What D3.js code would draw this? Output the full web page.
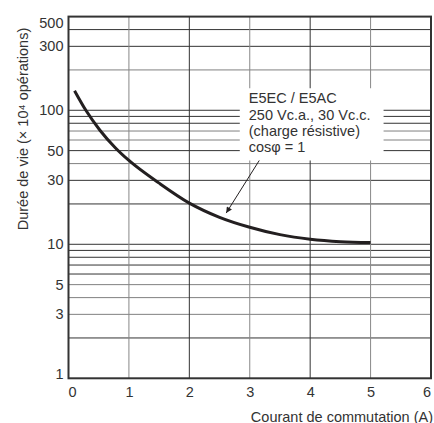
<!DOCTYPE html>
<html>
<head>
<meta charset="utf-8">
<script src="https://cdn.jsdelivr.net/npm/d3@7"></script>
<style>
  html, body { margin: 0; padding: 0; background: #fff; }
  svg { display: block; font-family: "Liberation Sans", Arial, sans-serif; }
</style>
</head>
<body>
<svg id="chart" width="434" height="423"></svg>
<script>
// ---- data ----
const currentA = [0.1, 0.29, 0.52, 0.77, 1, 1.5, 2, 2.5, 3, 3.5, 4, 4.5, 5];
const lifeOps  = [140, 99.5, 71, 52.8, 42.2, 28.6, 20.3, 15.9, 13.4, 11.8, 10.9, 10.45, 10.3];
const xTicks = [0, 1, 2, 3, 4, 5, 6];
const yTickLabels = [1, 3, 5, 10, 30, 50, 100, 300, 500];
const yGrid = [2, 3, 4, 5, 6, 7, 8, 9, 10, 20, 30, 40, 50, 60, 70, 80, 90, 100, 200, 300, 400];
const xGrid = [1, 2, 3, 4, 5];
const annotationLines = ["E5EC / E5AC", "250 Vc.a., 30 Vc.c.", "(charge résistive)", "cosφ = 1"];
const annotationBox = { x0: 2.835, x1: 5.215, yTop: 146, yBottom: 42.2 };
const arrowFrom = { x: 3.157, y: 42.2 };
const arrowTo = { x: 2.61, y: 17.1 };
const xTitle = "Courant de commutation (A)";
const yTitle = "Durée de vie (× 10⁴ opérations)";

// ---- layout ----
const L = 68.5, R = 431, T = 16.6, B = 378.3;
const svg = d3.select("#chart");
const x = d3.scaleLinear().domain([0, 6]).range([L, R]);
const y = d3.scaleLog().domain([1, 500]).range([B, T]);
const ink = "#231f20";
const fs = "14.5px";

const lightH = new Set([200, 70, 60, 40, 5, 4, 3]);

// grid
svg.append("g").selectAll("line").data(yGrid).join("line")
  .attr("x1", L).attr("x2", R)
  .attr("y1", d => y(d)).attr("y2", d => y(d))
  .attr("stroke", d => lightH.has(d) ? "#808080" : "#333")
  .attr("stroke-width", 1);
svg.append("g").selectAll("line").data(xGrid).join("line")
  .attr("x1", d => x(d)).attr("x2", d => x(d))
  .attr("y1", T).attr("y2", B)
  .attr("stroke", d => d % 2 === 1 ? "#888" : "#333")
  .attr("stroke-width", 1);

// annotation box (white background over grid)
svg.append("rect")
  .attr("x", x(annotationBox.x0)).attr("y", y(annotationBox.yTop))
  .attr("width", x(annotationBox.x1) - x(annotationBox.x0))
  .attr("height", y(annotationBox.yBottom) - y(annotationBox.yTop))
  .attr("fill", "#fff");

// frame
svg.append("rect")
  .attr("x", L).attr("y", T).attr("width", R - L).attr("height", B - T)
  .attr("fill", "none").attr("stroke", "#333").attr("stroke-width", 2);

// axes (labels only)
const xAxis = svg.append("g").attr("transform", `translate(0,${B})`)
  .call(d3.axisBottom(x).tickValues(xTicks).tickSize(0).tickPadding(8).tickFormat(d3.format("d")));
xAxis.select(".domain").remove();
xAxis.selectAll("text").attr("font-size", fs).attr("fill", "#333")
  .attr("font-family", "Liberation Sans, Arial, sans-serif")
  .attr("dx", d => d === 0 ? 3.5 : (d === 6 ? -4.5 : 0));

const yAxis = svg.append("g").attr("transform", `translate(${L},0)`)
  .call(d3.axisLeft(y).tickValues(yTickLabels).tickSize(0).tickPadding(5).tickFormat(d3.format("d")));
yAxis.select(".domain").remove();
yAxis.selectAll("text").attr("font-size", fs).attr("fill", "#333")
  .attr("font-family", "Liberation Sans, Arial, sans-serif")
  .attr("dy", d => d === 500 ? "0.72em" : (d === 1 ? "0em" : "0.32em"));

// curve
const line = d3.line().x(d => x(d[0])).y(d => y(d[1])).curve(d3.curveMonotoneX);
svg.append("path")
  .datum(currentA.map((c, i) => [c, lifeOps[i]]))
  .attr("d", line)
  .attr("fill", "none").attr("stroke", ink).attr("stroke-width", 3)
  .attr("stroke-linecap", "butt");

// annotation text
const tx = svg.append("text")
  .attr("font-size", fs).attr("fill", "#333");
annotationLines.forEach((t, i) => {
  tx.append("tspan").attr("x", x(annotationBox.x0) + 9)
    .attr("y", y(annotationBox.yTop) + 15 + i * 16.4).text(t);
});

// arrow
const defs = svg.append("defs");
defs.append("marker").attr("id", "ah").attr("viewBox", "0 0 10 10")
  .attr("refX", 10).attr("refY", 5).attr("markerWidth", 8).attr("markerHeight", 6)
  .attr("markerUnits", "userSpaceOnUse").attr("orient", "auto")
  .append("path").attr("d", "M0,0 L10,5 L0,10 z").attr("fill", ink);
svg.append("line")
  .attr("x1", x(arrowFrom.x)).attr("y1", y(arrowFrom.y))
  .attr("x2", x(arrowTo.x)).attr("y2", y(arrowTo.y))
  .attr("stroke", ink).attr("stroke-width", 1)
  .attr("marker-end", "url(#ah)");

// titles
svg.append("text").attr("x", 433).attr("y", 421.5)
  .attr("text-anchor", "end").attr("font-size", fs).attr("fill", "#333")
  .text(xTitle);
svg.append("text").attr("transform", "translate(28,129) rotate(-90)")
  .attr("text-anchor", "middle").attr("font-size", "14.5px").attr("fill", "#333")
  .text(yTitle);
</script>
</body>
</html>
